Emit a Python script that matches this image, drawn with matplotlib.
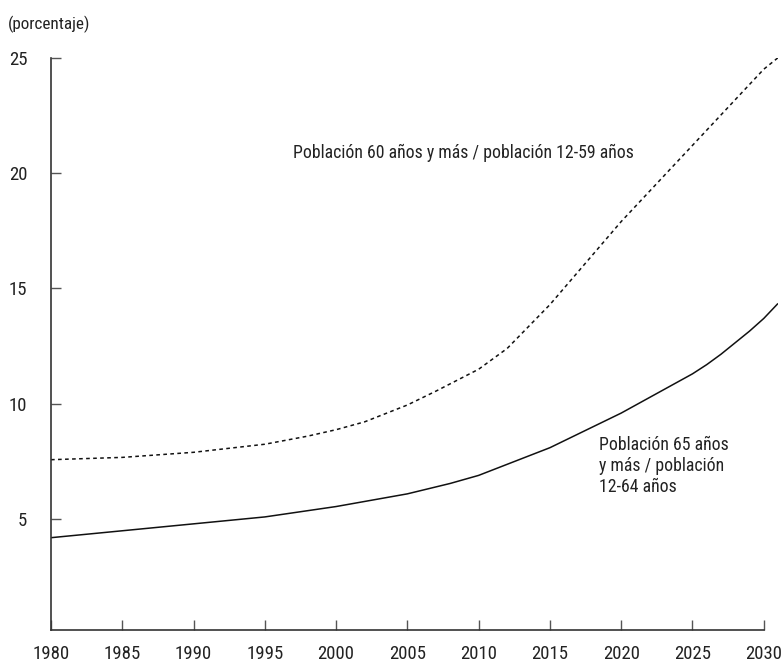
import matplotlib
matplotlib.use("Agg")
import matplotlib.pyplot as plt

# ratios de dependencia de adultos mayores (porcentaje)
years_65 = [1980, 1985, 1990, 1995, 2000, 2005, 2008, 2010, 2015, 2020, 2025,
            2026, 2027, 2028, 2029, 2030, 2031]
ratio_65 = [4.2, 4.5, 4.8, 5.1, 5.55, 6.1, 6.55, 6.9, 8.1, 9.6, 11.3,
            11.7, 12.15, 12.65, 13.15, 13.7, 14.35]

years_60 = [1980, 1985, 1990, 1995, 1998, 2000, 2002, 2005, 2007, 2010, 2012,
            2015, 2020, 2025, 2030, 2031]
ratio_60 = [7.58, 7.68, 7.9, 8.25, 8.6, 8.88, 9.22, 9.95, 10.55, 11.5, 12.4,
            14.3, 17.9, 21.2, 24.5, 25.0]

xticks = [1980, 1985, 1990, 1995, 2000, 2005, 2010, 2015, 2020, 2025, 2030]
yticks = [5, 10, 15, 20, 25]

FONT = ["Roboto Condensed", "Liberation Sans Narrow", "Liberation Sans", "DejaVu Sans"]
INK = "#222222"
AXC = "#333333"

plt.rcParams["font.family"] = FONT

fig = plt.figure(figsize=(7.82, 6.62), dpi=100)
ax = fig.add_axes([51 / 782, 1 - 630 / 662, (778 - 51) / 782, (630 - 57.7) / 662])

ax.plot(years_65, ratio_65, color="#111111", lw=1.1, solid_capstyle="butt")
ax.plot(years_60, ratio_60, color="#111111", lw=1.1, dashes=(2.4, 2.2))

ax.set_xlim(1980, 2031)
ax.set_ylim(0.2, 25)
ax.set_xticks(xticks)
ax.set_yticks(yticks)

for s in ("top", "right"):
    ax.spines[s].set_visible(False)
ax.spines["bottom"].set_bounds(1980, 2030)
ax.spines["left"].set_bounds(0.2, 25)
for s in ("left", "bottom"):
    ax.spines[s].set_color(AXC)
    ax.spines[s].set_linewidth(1.2)

ax.tick_params(axis="both", direction="in", length=7.5, width=1.0, color="#555555",
               labelsize=13.5, labelcolor=INK)
ax.tick_params(axis="y", pad=17)
ax.tick_params(axis="x", pad=11)

fig.text(8 / 782, 1 - 24 / 662, "(porcentaje)", fontsize=12.3, color=INK,
         ha="left", va="center")

ax.text(293 / 782, 1 - 158 / 662, "Población 60 años y más / población 12-59 años",
        transform=fig.transFigure, fontsize=12.8, color=INK, ha="left", va="baseline")
ax.text(599 / 782, 1 - 436 / 662, "Población 65 años\ny más / población\n12-64 años",
        transform=fig.transFigure, fontsize=12.8, color=INK, ha="left", va="top",
        linespacing=1.2)

fig.savefig("out.png", dpi=100)
